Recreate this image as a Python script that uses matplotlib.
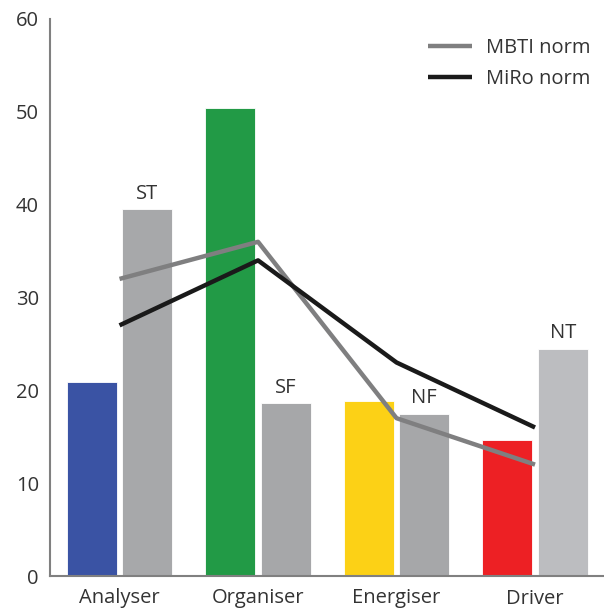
import numpy as np
import matplotlib.pyplot as plt

plt.rcParams['font.family'] = ['Open Sans', 'DejaVu Sans']

categories = ['Analyser', 'Organiser', 'Energiser', 'Driver']
miro_values = [20.9, 50.4, 18.9, 14.7]
mbti_types = ['ST', 'SF', 'NF', 'NT']
mbti_values = [39.5, 18.6, 17.5, 24.5]
mbti_norm = [32, 36, 17, 12]
miro_norm = [27, 34, 23, 16]

miro_colors = ['#3a53a4', '#229a46', '#fcd116', '#ed2024']
type_colors = ['#a7a8aa', '#a6a7a9', '#a6a7a9', '#bcbdc0']

fig = plt.figure(figsize=(6.04, 6.08), dpi=100)
ax = fig.add_axes([50 / 604, 32 / 608, 554 / 604, 557 / 608])

x = np.arange(len(categories))
width = 0.361
offset = 0.2

ax.bar(x - offset, miro_values, width, color=miro_colors, edgecolor='white', linewidth=0.6, zorder=2)
bars = ax.bar(x + offset, mbti_values, width, color=type_colors, edgecolor='white', linewidth=0.6, zorder=2)

for b, t in zip(bars, mbti_types):
    ax.text(b.get_x() + b.get_width() / 2, b.get_height() + 0.6, t,
            ha='center', va='bottom', fontsize=14.5, color='#333333')

ax.plot(x, mbti_norm, color='#7f7f80', lw=3.2, solid_capstyle='butt', zorder=3, label='MBTI norm')
ax.plot(x, miro_norm, color='#1a1a1a', lw=3.2, solid_capstyle='butt', zorder=3, label='MiRo norm')

ax.set_xlim(-0.502, 3.498)
ax.set_ylim(0, 60)
ax.set_yticks(range(0, 61, 10))
ax.set_xticks(x)
ax.set_xticklabels(categories)
ax.tick_params(axis='both', length=0, labelsize=14.5, labelcolor='#333333')
ax.tick_params(axis='y', pad=8)
ax.tick_params(axis='x', pad=9)

for s in ['top', 'right']:
    ax.spines[s].set_visible(False)
for s in ['left', 'bottom']:
    ax.spines[s].set_color('#808080')
    ax.spines[s].set_linewidth(1.5)

ax.legend(loc='upper right', bbox_to_anchor=(591 / 604, 1 - 38 / 608), bbox_transform=fig.transFigure,
          frameon=False, fontsize=14.5, handlelength=2.2, handletextpad=0.7,
          labelspacing=0.55, borderpad=0, borderaxespad=0, labelcolor='#333333')

fig.savefig('out.png', dpi=100)
